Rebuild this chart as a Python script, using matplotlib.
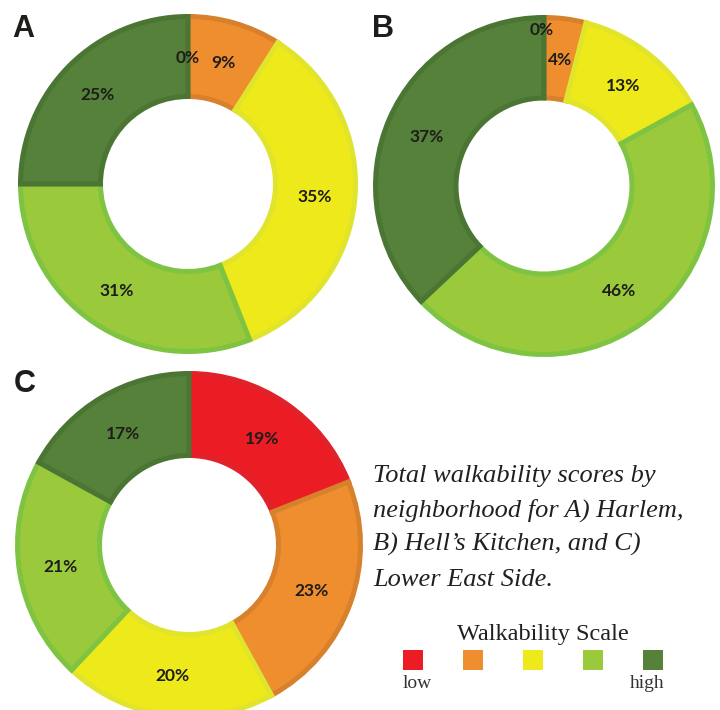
import matplotlib
matplotlib.use("Agg")
import matplotlib.pyplot as plt

# walkability scale, low -> high, read clockwise from 12 o'clock
levels = ["very low", "low", "medium", "high", "very high"]
fills = ["#ec1c24", "#ef8e2e", "#eee91a", "#9aca3c", "#55813a"]
edges = ["#e0222a", "#d8812c", "#e0e42c", "#7fc342", "#4a7533"]

harlem = [0, 9, 35, 31, 25]
hells_kitchen = [0, 4, 13, 46, 37]
lower_east_side = [19, 23, 20, 21, 17]

panels = ["A", "B", "C"]
caption = ["Total walkability scores by",
           "neighborhood for A) Harlem,",
           "B) Hell\u2019s Kitchen, and C)",
           "Lower East Side."]

W, H = 720, 710
STROKE = 5  # wedge outline, px

fig = plt.figure(figsize=(W / 100, H / 100), dpi=100)
ax = fig.add_axes([0, 0, 1, 1])


def py(y):
    # pixel row (from top) -> data y
    return H - y


# (centre x, centre y, radius) in pixels, plus where the panel letter sits
layout = [
    (harlem, (188, 184), 170, (12, 37)),
    (hells_kitchen, (544, 186), 171, (372, 37)),
    (lower_east_side, (189, 545), 174, (14, 392)),
]

for k, (vals, (cx, cy), r, (lx, ly)) in enumerate(layout):
    # shrink by half the stroke so the outline stays inside the ring
    d = STROKE / 2
    ring = r * 0.5
    wedges, _, autotexts = ax.pie(
        vals, colors=fills, startangle=90, counterclock=False,
        center=(cx, py(cy)), radius=r - d,
        wedgeprops=dict(width=ring - 2 * d, linewidth=STROKE * 0.72),
        autopct="%.0f%%", pctdistance=(r * 0.75) / (r - d),
        textprops=dict(family="Lato", weight="bold", size=12.5,
                       color="#1d1d1b", va="center_baseline"))
    for w, ec in zip(wedges, edges):
        w.set_edgecolor(ec)
    if k == 1:
        # Excel pushed the 0% label outward to clear the 4% one
        x, y = autotexts[0].get_position()
        autotexts[0].set_position((x - 2, y + 29))
    ax.text(lx, py(ly), panels[k], family="Liberation Sans",
            weight="bold", size=22, color="#1d1d1b", va="baseline")

for i, line in enumerate(caption):
    ax.text(373, py(482 + i * 34.5), line, family="Liberation Serif",
            style="italic", size=19, color="#231f20", va="baseline")

ax.text(543, py(640), "Walkability Scale", family="Liberation Serif",
        size=17.5, color="#231f20", ha="center", va="baseline")

sq_x = [413 + 60 * i for i in range(len(levels))]
ax.scatter(sq_x, [py(660)] * len(levels), marker="s", s=190,
           c=fills, linewidths=0)
ax.text(417, py(688), "low", family="Liberation Serif", size=14,
        color="#333333", ha="center", va="baseline")
ax.text(647, py(688), "high", family="Liberation Serif", size=14,
        color="#333333", ha="center", va="baseline")

ax.set_xlim(0, W)
ax.set_ylim(0, H)
ax.set_aspect("equal")
ax.set_axis_off()

fig.savefig("out.png", dpi=100, facecolor="white")
